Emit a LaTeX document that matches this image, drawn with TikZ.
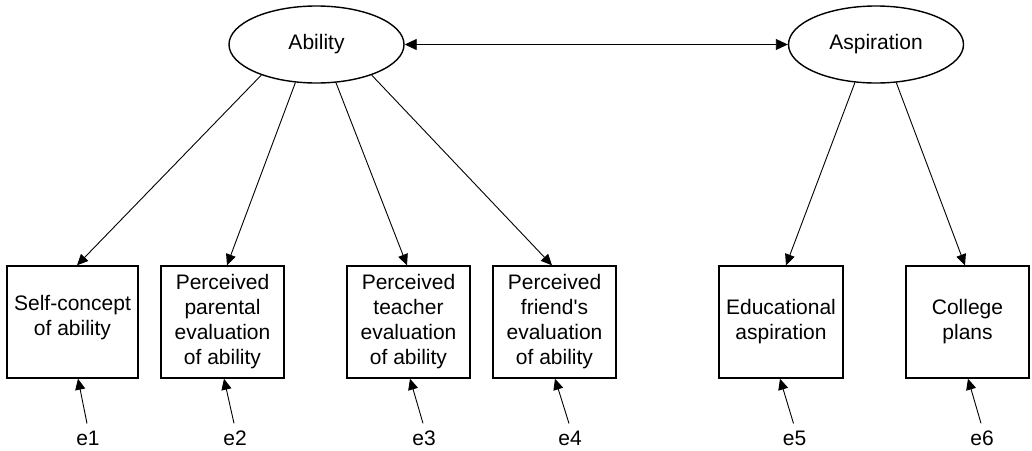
\documentclass[tikz,border=0pt]{standalone}
\usepackage{fontspec}
\setmainfont{Liberation Sans}[Ligatures=TeXOff]
\usetikzlibrary{shapes.geometric,arrows.meta}
\begin{document}
\begin{tikzpicture}[x=1pt,y=-1pt,
  font=\fontsize{21}{25}\selectfont,
  latent/.style={draw,ellipse,line width=1.4pt,minimum width=175pt,minimum height=77pt,inner sep=0pt},
  observed/.style={draw,rectangle,line width=1.4pt,minimum width=123pt,minimum height=112pt,inner sep=0pt,align=center},
  errlab/.style={inner sep=0pt},
  arr/.style={line width=0.9pt,-{Triangle[length=11pt,width=10pt]}},
  darr/.style={line width=0.9pt,{Triangle[length=12pt,width=11pt]}-{Triangle[length=12pt,width=11pt]}}]
\useasboundingbox (0,0) rectangle (1032,450);
\node[latent] (ab) at (316.5,44.5) {Ability};
\node[latent] (as) at (876,44.5) {Aspiration};
\node[observed,minimum width=131pt,text depth=14pt] (b1) at (72.5,322) {Self-concept\\of ability};
\node[observed] (b2) at (222.5,322) {Perceived\\parental\\evaluation\\of ability};
\node[observed] (b3) at (408.5,322) {Perceived\\teacher\\evaluation\\of ability};
\node[observed] (b4) at (554.5,322) {Perceived\\friend's\\evaluation\\of ability};
\node[observed,minimum width=124pt] (b5) at (781,322) {Educational\\aspiration};
\node[observed] (b6) at (967.5,322) {College\\plans};
\node[errlab] (e1) at (88,438) {e1};
\node[errlab] (e2) at (235,438) {e2};
\node[errlab] (e3) at (424,438) {e3};
\node[errlab] (e4) at (570,438) {e4};
\node[errlab] (e5) at (794.5,438) {e5};
\node[errlab] (e6) at (982,438) {e6};
\draw[darr] (ab.east) -- (as.west);
\draw[arr] (ab.209) -- ([xshift=4.5pt]b1.north);
\draw[arr] (ab.241.4) -- ([xshift=4.5pt]b2.north);
\draw[arr] (ab.297.4) -- ([xshift=-1.5pt]b3.north);
\draw[arr] (ab.331) -- ([xshift=-2.5pt]b4.north);
\draw[arr] (as.241) -- ([xshift=5pt]b5.north);
\draw[arr] (as.298) -- ([xshift=-2.5pt]b6.north);
\draw[arr] ([xshift=-1pt,yshift=7pt]e1.north) -- ([xshift=5.5pt]b1.south);
\draw[arr] ([xshift=-1pt,yshift=7pt]e2.north) -- ([xshift=1.5pt]b2.south);
\draw[arr] ([xshift=-1pt,yshift=7pt]e3.north) -- ([xshift=1.5pt]b3.south);
\draw[arr] ([xshift=-1pt,yshift=7pt]e4.north) -- ([xshift=0.5pt]b4.south);
\draw[arr] ([xshift=-1pt,yshift=7pt]e5.north) -- ([xshift=-1pt]b5.south);
\draw[arr] ([xshift=-1pt,yshift=7pt]e6.north) -- ([xshift=0.5pt]b6.south);
\end{tikzpicture}
\end{document}
